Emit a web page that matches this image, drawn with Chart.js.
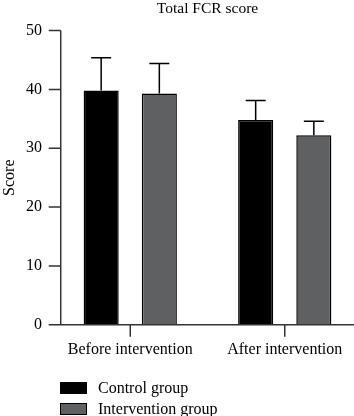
<!DOCTYPE html>
<html>
<head>
<meta charset="utf-8">
<script src="https://cdn.jsdelivr.net/npm/chart.js@4/dist/chart.umd.min.js"></script>
<style>
  html, body { margin: 0; padding: 0; background: #fff; overflow: hidden; }
  #wrap { position: relative; width: 354px; height: 416px; overflow: hidden; }
  #chart { position: absolute; left: 0; top: 0; }
  #legend { position: absolute; left: 60px; top: 377px; font-family: 'Liberation Serif', serif; font-size: 16px; color: #000; }
  .item { display: flex; align-items: center; height: 21px; }
  .box { width: 25px; height: 10px; border: 1.5px solid #000; margin-right: 11px; }
</style>
</head>
<body>
<div id="wrap">
  <canvas id="chart" width="362" height="416"></canvas>
  <div id="legend"></div>
</div>
<script>
// data
const categories = ['Before intervention', 'After intervention'];
const groupNames = ['Control group', 'Intervention group'];
const controlMeans = [39.8, 34.8];
const controlSD = [5.6, 3.3];
const interventionMeans = [39.3, 32.2];
const interventionSD = [5.1, 2.4];
const yTicks = [0, 10, 20, 30, 40, 50];

const serif = "'Liberation Serif', 'Times New Roman', serif";
const groupColors = ['#000000', '#5e6062'];

// error bars (upper only) and the offset axes
const axesAndErrors = {
  id: 'axesAndErrors',
  afterDatasetsDraw(chart) {
    const ctx = chart.ctx;
    const x = chart.scales.x;
    const y = chart.scales.y;
    ctx.save();
    ctx.strokeStyle = '#000';
    ctx.lineWidth = 1.5;
    chart.data.datasets.forEach((ds, i) => {
      const meta = chart.getDatasetMeta(i);
      meta.data.forEach((bar, j) => {
        const top = y.getPixelForValue(ds.data[j] + ds.errors[j]);
        ctx.beginPath();
        ctx.moveTo(bar.x, bar.y);
        ctx.lineTo(bar.x, top);
        ctx.moveTo(bar.x - 10, top);
        ctx.lineTo(bar.x + 10, top);
        ctx.stroke();
      });
    });

    // axes
    ctx.strokeStyle = '#333';
    const axisX = x.getPixelForValue(-0.45);
    const y0 = y.getPixelForValue(0);
    ctx.beginPath();
    ctx.moveTo(axisX, y.getPixelForValue(yTicks[yTicks.length - 1]));
    ctx.lineTo(axisX, y0);
    for (const t of yTicks) {
      const py = y.getPixelForValue(t);
      ctx.moveTo(axisX - 12, py);
      ctx.lineTo(axisX, py);
    }
    ctx.moveTo(axisX - 12, y0);
    ctx.lineTo(chart.width, y0);
    categories.forEach((c, j) => {
      const px = x.getPixelForValue(j);
      ctx.moveTo(px, y0);
      ctx.lineTo(px, y0 + 12);
    });
    ctx.stroke();
    ctx.restore();
  },
};

const chart = new Chart(document.getElementById('chart'), {
  type: 'bar',
  data: {
    labels: categories,
    datasets: [
      {
        label: groupNames[0],
        data: controlMeans,
        errors: controlSD,
        backgroundColor: groupColors[0],
        borderColor: '#000',
        borderWidth: 1.5,
      },
      {
        label: groupNames[1],
        data: interventionMeans,
        errors: interventionSD,
        backgroundColor: groupColors[1],
        borderColor: '#000',
        borderWidth: 1.5,
      },
    ],
  },
  options: {
    responsive: false,
    animation: false,
    categoryPercentage: 0.753,
    barPercentage: 0.603,
    layout: { padding: { top: 0, right: 0, bottom: 42, left: 0 } },
    plugins: {
      legend: { display: false },
      tooltip: { enabled: false },
      title: {
        display: true,
        text: 'Total FCR score',
        fullSize: false,
        color: '#000',
        font: { family: serif, size: 15.5, weight: 'normal' },
        padding: { top: 0, bottom: 12 },
      },
    },
    scales: {
      x: {
        grid: { display: false, drawTicks: false },
        border: { display: false },
        ticks: { color: '#000', padding: 15, font: { family: serif, size: 16 } },
      },
      y: {
        min: 0,
        max: 50,
        afterFit(scale) {
          scale.width = 53;
        },
        grid: { display: false, drawTicks: false },
        border: { display: false },
        ticks: { stepSize: 10, color: '#000', padding: 11, font: { family: serif, size: 16 } },
        title: {
          display: true,
          text: 'Score',
          color: '#000',
          padding: 0,
          font: { family: serif, size: 16 },
        },
      },
    },
  },
  plugins: [axesAndErrors],
});

// legend as html below the plot
const legend = document.getElementById('legend');
chart.data.datasets.forEach((ds) => {
  const item = document.createElement('div');
  item.className = 'item';
  const box = document.createElement('span');
  box.className = 'box';
  box.style.background = ds.backgroundColor;
  item.appendChild(box);
  item.appendChild(document.createTextNode(ds.label));
  legend.appendChild(item);
});
</script>
</body>
</html>
